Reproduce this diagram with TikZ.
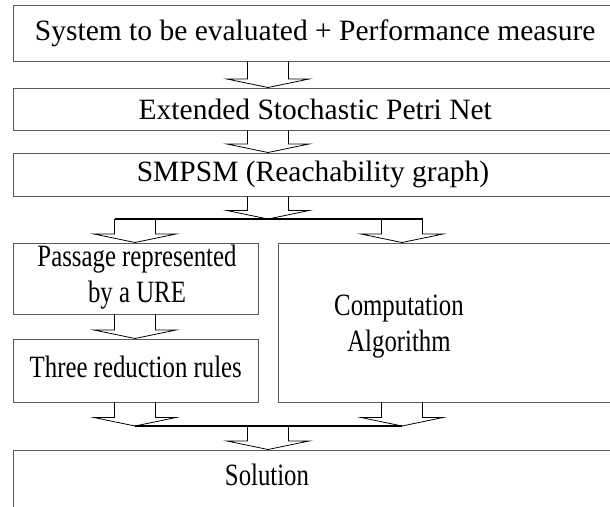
\documentclass[tikz,border=0pt]{standalone}
\usepackage{fontspec}
\setmainfont{Liberation Serif}
\usetikzlibrary{calc}
\tikzset{
  box/.style={draw=black!65, line width=1pt, rectangle, inner sep=0pt},
  txt/.style={inner sep=0pt, align=center, font=\fontsize{29.5}{36}\selectfont},
  ltxt/.style={inner sep=0pt, font=\fontsize{31}{36}\selectfont},
  arr/.style={draw=black, line width=0.8pt, line join=miter},
  bar/.style={draw=black, line width=1.4pt},
}
\newcommand\cond[1]{\scalebox{0.8}[1]{\begin{tabular}{@{}c@{}}#1\end{tabular}}}
\newcommand\blockarrow[2]{%
  \path[arr] let \p1=(#1), \p2=(#2) in
    (\x1-20.5pt,\y1) -- (\x1-20.5pt,\y2+8.5pt) -- (\x1-41pt,\y2+8.5pt) -- (\p2)
    -- (\x1+41pt,\y2+8.5pt) -- (\x1+20.5pt,\y2+8.5pt) -- (\x1+20.5pt,\y1);}
\begin{document}
\begin{tikzpicture}[x=1pt,y=-1pt]
\path[use as bounding box, fill=white] (0,0) rectangle (610,506);
\clip (0,0) rectangle (610,506);
% boxes
\node[box, minimum width=603.5, minimum height=56] (b1) at (315.25,33) {};
\node[txt] (t1) at (b1.center) {System to be evaluated + Performance measure};
\node[box, minimum width=603.5, minimum height=42] (b2) at (315.25,109) {};
\node[txt] (t2) at (b2.center) {Extended Stochastic Petri Net};
\node[box, minimum width=603.5, minimum height=43] (b3) at (315.25,174.5) {};
\node[txt] (t3) at (313,174.5) {SMPSM (Reachability graph)};
\node[box, minimum width=244.5, minimum height=71] (p) at (135.75,278.5) {};
\node[ltxt] (tp) at (137,277) {\cond{Passage represented\\by a URE}};
\node[box, minimum width=244.5, minimum height=63] (r) at (135.75,370.5) {};
\node[ltxt] (tr) at (r.center) {\cond{Three reduction rules}};
\node[box, minimum width=362, minimum height=159] (c) at (459,322.5) {};
\node[ltxt] (tc) at (399,326) {\cond{Computation\\Algorithm}};
\node[box, minimum width=603.5, minimum height=100] (s) at (315.25,500) {};
\node[ltxt] (ts) at (267,478) {\cond{Solution}};
% axes
\coordinate (ax) at (268,0);
\coordinate (al) at (135,0);
\coordinate (ar) at (402,0);
\coordinate (split1) at (268,219);
\coordinate (split2) at (268,426);
% arrows
\blockarrow{ax |- b1.south}{ax |- b2.north}
\blockarrow{ax |- b2.south}{ax |- b3.north}
\blockarrow{ax |- b3.south}{split1}
\draw[bar] ($(al |- split1)+(-20.5,0)$) -- ($(ar |- split1)+(20.5,0)$);
\blockarrow{al |- split1}{al |- p.north}
\blockarrow{ar |- split1}{ar |- c.north}
\blockarrow{al |- p.south}{al |- r.north}
\blockarrow{al |- r.south}{al |- split2}
\blockarrow{ar |- c.south}{ar |- split2}
\draw[bar] (al |- split2) -- (ar |- split2);
\blockarrow{split2}{ax |- s.north}
\end{tikzpicture}
\end{document}
